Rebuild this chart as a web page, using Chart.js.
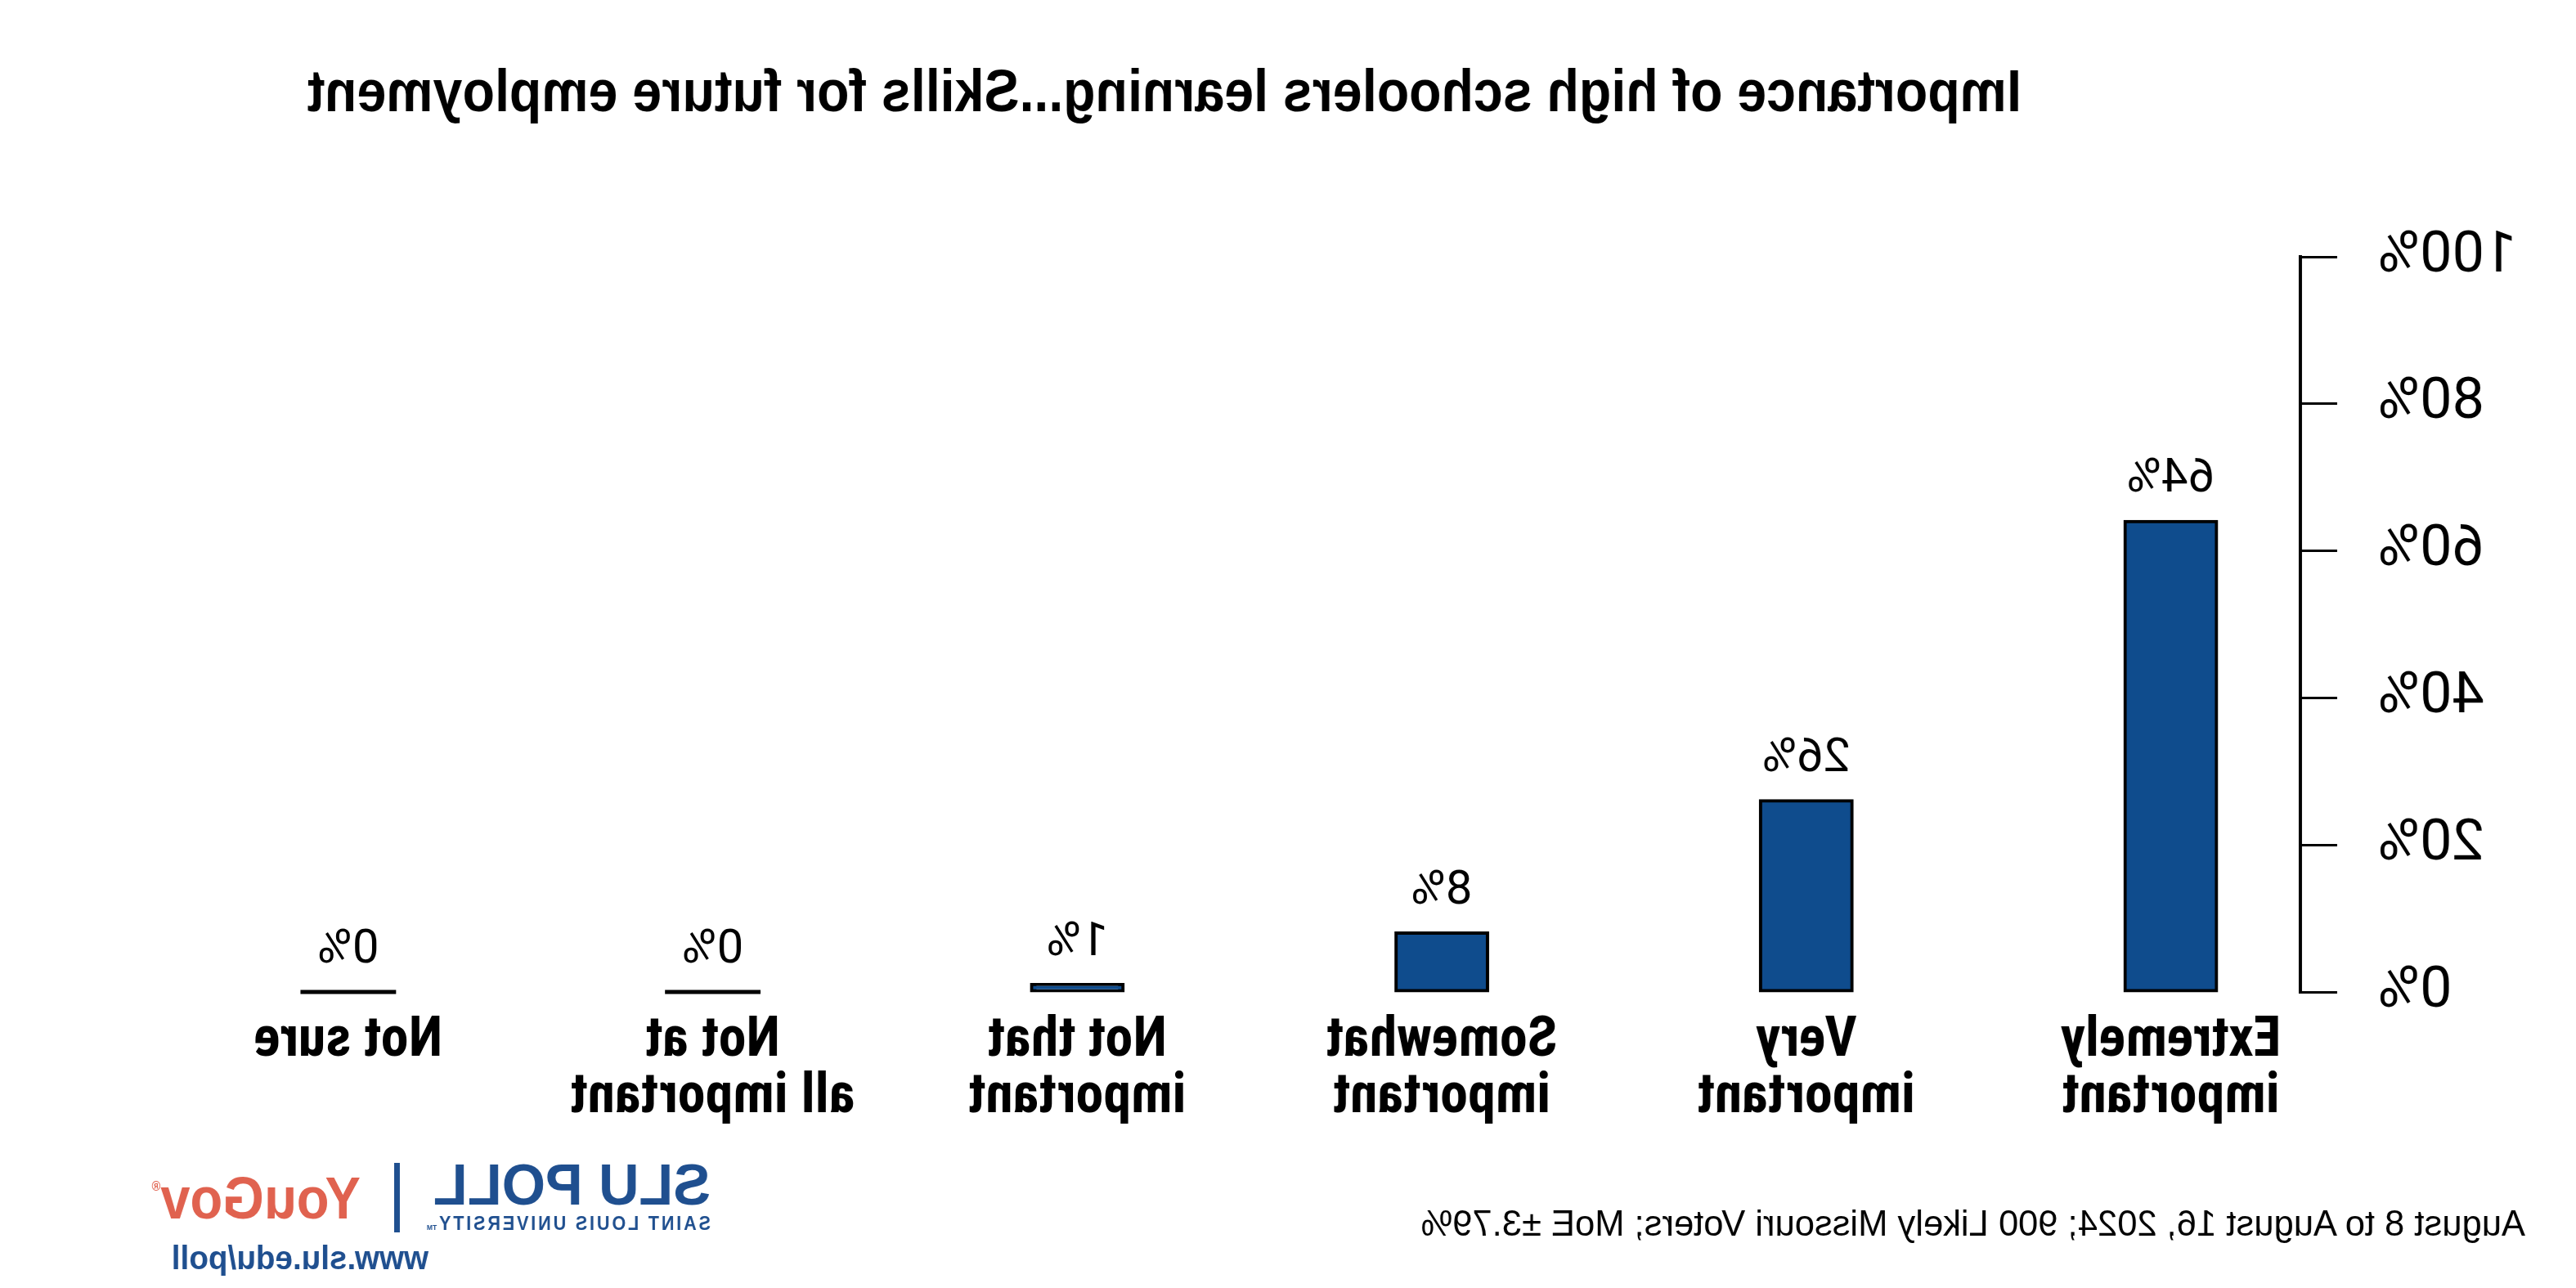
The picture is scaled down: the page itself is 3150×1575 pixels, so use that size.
<!DOCTYPE html>
<html><head><meta charset="utf-8">
<script src="https://cdn.jsdelivr.net/npm/chart.js@4.4.1/dist/chart.umd.min.js"></script>
<style>
html,body{margin:0;padding:0;background:#fff;}
#root{position:absolute;left:0;top:0;width:3150px;height:1575px;transform:scaleX(-1);transform-origin:center center;overflow:hidden;background:#fff}
canvas{position:absolute;left:0;top:0}
.t{position:absolute;white-space:nowrap;line-height:1;transform-origin:left top;font-family:"Liberation Sans",Arial,sans-serif}
</style></head><body>
<div id="root">
<canvas id="c" width="3150" height="1575"></canvas>
<div class="t" id="title" data-w="2096" style="left:678px;top:75px;font-size:72px;font-weight:bold;color:#000">Importance of high schoolers learning...Skills for future employment</div>
<div class="t" id="foot" data-w="1351" style="left:62px;top:1474px;font-size:44px;color:#000">August 8 to August 16, 2024; 900 Likely Missouri Voters; MoE ±3.79%</div>
<div class="t" data-w="339" style="left:2281px;top:1413px;font-size:71px;font-weight:bold;color:#1f4f8f">SLU POLL</div>
<div class="t" data-w="347" style="left:2281px;top:1485px;font-size:23px;font-weight:bold;letter-spacing:3px;color:#1f4f8f">SAINT LOUIS UNIVERSITY<span style="font-size:9px;letter-spacing:0">TM</span></div>
<div style="position:absolute;left:2661px;top:1422px;width:7px;height:85px;background:#1f4f8f"></div>
<div class="t" data-w="255" style="left:2709px;top:1429px;font-size:72px;font-weight:bold;color:#e0624f">YouGov<span style="font-size:16px;vertical-align:top;position:relative;top:14px">®</span></div>
<div class="t" data-w="314" style="left:2626px;top:1518px;font-size:40px;font-weight:bold;color:#1f4f8f">www.slu.edu/poll</div>
</div>
<script>
const categories = [["Extremely","important"],["Very","important"],["Somewhat","important"],["Not that","important"],["Not at","all important"],["Not sure"]];
const values = [64, 26, 8, 1, 0, 0];
const yTicks = [0, 20, 40, 60, 80, 100];

document.querySelectorAll('[data-w]').forEach(el=>{
  const w = +el.dataset.w; el.style.display='inline-block';
  el.style.transform = 'scaleX(' + (w/el.offsetWidth) + ')';
});

const catFont = {family:'"Roboto Condensed", "Liberation Sans"', size:68, weight:'bold', lineHeight:69/68};

const valueLabels = {
  id:'valueLabels',
  afterDatasetsDraw(chart){
    const ctx = chart.ctx, meta = chart.getDatasetMeta(0);
    ctx.save();
    ctx.font = '58px Roboto, "Liberation Sans"';
    ctx.fillStyle = '#000'; ctx.textAlign = 'center'; ctx.textBaseline = 'middle';
    meta.data.forEach((bar,i)=>{
      const top = Math.min(bar.y, bar.base);
      ctx.fillText(values[i] + '%', bar.x, top - 51);
    });
    ctx.restore();
  }
};

new Chart(document.getElementById('c'), {
  type:'bar',
  data:{datasets:[{
    data: values.map((v,i)=>({x:i, y:v})),
    backgroundColor: c => values[c.dataIndex] === 0 ? '#000' : '#0f4c8d',
    borderColor:'#000',
    borderWidth: c => values[c.dataIndex] === 0 ? 0 : 4,
    inflateAmount: c => values[c.dataIndex] === 0 ? 2.5 : 2,
    borderSkipped:false, clip:false,
    barPercentage:0.251, categoryPercentage:1
  }]},
  options:{
    responsive:false, animation:false, devicePixelRatio:1,
    layout:{padding:{top:314, right:203, left:0, bottom:0}},
    plugins:{legend:{display:false}, tooltip:{enabled:false}, title:{display:false}},
    scales:{
      x:{type:'linear', min:-0.3555, max:5.5, offset:false,
        afterBuildTicks:s=>{s.ticks = categories.map((_,i)=>({value:i}));},
        afterFit:s=>{s.height = 362;},
        ticks:{callback:v=>categories[v], font:catFont, color:'#000', padding:26, maxRotation:0, autoSkip:false},
        grid:{display:false, drawTicks:false, offset:false}, border:{display:false}},
      y:{min:0, max:100,
        afterBuildTicks:s=>{s.ticks = yTicks.map(v=>({value:v}));},
        afterFit:s=>{s.width = 337;},
        ticks:{callback:v=>v + '%', font:{family:'Roboto, "Liberation Sans"', size:70}, color:'#000', padding:50},
        grid:{drawOnChartArea:false, tickLength:45, color:'#000', lineWidth:3},
        border:{display:true, color:'#000', width:4}}
    }
  },
  plugins:[valueLabels]
});
</script>
</body></html>
